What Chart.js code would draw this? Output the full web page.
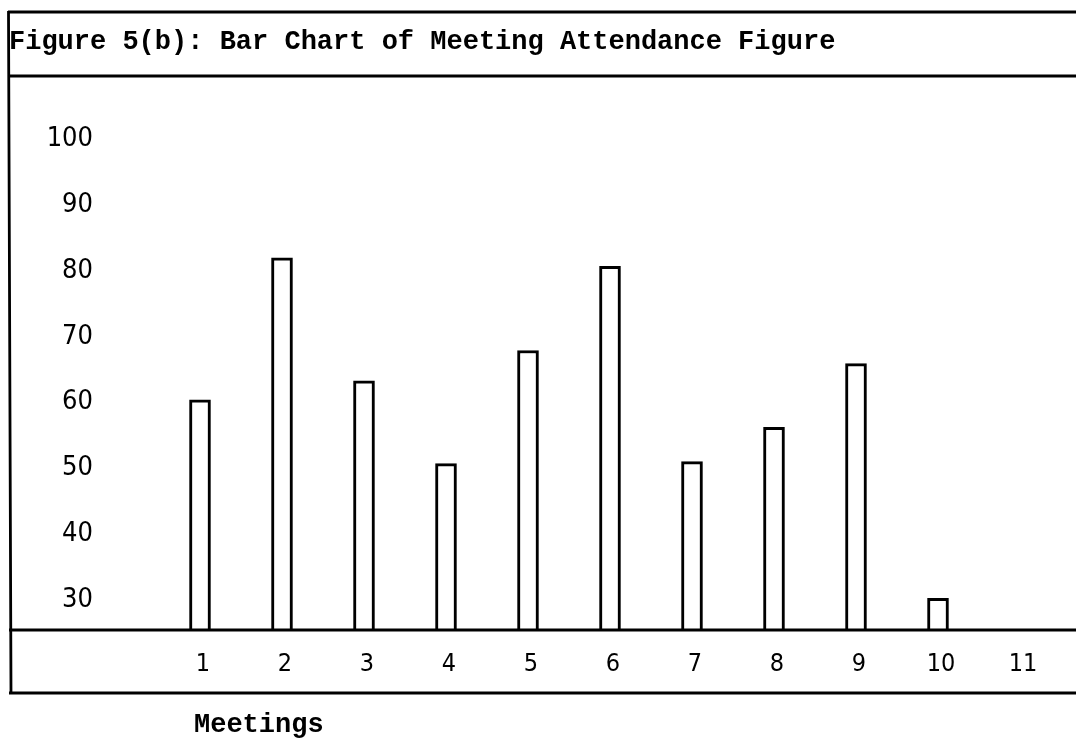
<!DOCTYPE html>
<html>
<head>
<meta charset="utf-8">
<title>Meeting Attendance</title>
<script src="https://cdn.jsdelivr.net/npm/chart.js@4.4.1/dist/chart.umd.min.js"></script>
<style>
    html, body { margin: 0; padding: 0; background: #fff; }
    #wrap { position: relative; width: 1076px; height: 739px; }
</style>
</head>
<body>
<div id="wrap"><canvas id="attendanceChart"></canvas></div>
<script>
// Data
const meetings = ['1', '2', '3', '4', '5', '6', '7', '8', '9', '10', '11'];
const attendance = [60, 81.6, 62.9, 50.3, 67.5, 80.3, 50.6, 55.8, 65.5, 29.8, null];
const yTicks = [30, 40, 50, 60, 70, 80, 90, 100];

const titleText = 'Figure 5(b): Bar Chart of Meeting Attendance Figure';
const xTitleText = 'Meetings';

const monoFont = "'Liberation Mono', 'Courier New', monospace";
const sansFont = "'DejaVu Sans Condensed', 'DejaVu Sans', sans-serif";

// Frame of the figure: box lines, baseline and axis caption
const framePlugin = {
    id: 'frame',
    afterDraw(chart) {
        const c = chart.ctx;
        const area = chart.chartArea;
        const w = chart.width;
        c.save();
        c.strokeStyle = '#000';
        c.lineWidth = 2.8;
        c.beginPath();
        c.moveTo(8, 12); c.lineTo(w, 12);        // top edge
        c.moveTo(8, 76); c.lineTo(w, 76);        // under title
        c.moveTo(9, area.bottom); c.lineTo(w, area.bottom); // baseline
        c.moveTo(9, 693); c.lineTo(w, 693);      // bottom of label strip
        c.moveTo(8.5, 11); c.lineTo(11, 694);    // left edge
        c.stroke();

        c.fillStyle = '#000';
        c.font = 'bold 27px ' + monoFont;
        c.textBaseline = 'middle';
        c.textAlign = 'left';
        c.fillText(xTitleText, 194, 725);
        c.restore();
    }
};

document.addEventListener('DOMContentLoaded', () => {
    const ctx = document.getElementById('attendanceChart');

    new Chart(ctx, {
        type: 'bar',
        data: {
            labels: meetings,
            datasets: [{
                label: 'Attendance',
                data: attendance,
                backgroundColor: '#fff',
                borderColor: '#000',
                borderWidth: 3,
                borderSkipped: 'start',
                barThickness: 21
            }]
        },
        options: {
            responsive: true,
            maintainAspectRatio: false,
            animation: false,
            layout: {
                padding: { left: 9, right: 15, top: 0, bottom: 0 }
            },
            scales: {
                x: {
                    grid: { display: false },
                    border: { display: false },
                    ticks: {
                        color: '#000',
                        padding: 11,
                        labelOffset: 3,
                        font: { family: sansFont, size: 25 }
                    },
                    afterFit: (axis) => { axis.height = 109; }
                },
                y: {
                    min: 25,
                    max: 109.5,
                    grid: { display: false },
                    border: { display: false },
                    ticks: {
                        color: '#000',
                        padding: 58,
                        labelOffset: 2.5,
                        font: { family: sansFont, size: 27 }
                    },
                    afterBuildTicks: (axis) => {
                        axis.ticks = yTicks.map(v => ({ value: v }));
                    },
                    afterFit: (axis) => { axis.width = 150; }
                }
            },
            plugins: {
                legend: { display: false },
                tooltip: { enabled: false },
                title: {
                    display: true,
                    text: titleText,
                    align: 'start',
                    color: '#000',
                    font: { family: monoFont, size: 27, weight: 'bold', lineHeight: 1.2 },
                    padding: { top: 21, bottom: 15.8 }
                }
            }
        },
        plugins: [framePlugin]
    });
});
</script>
</body>
</html>
